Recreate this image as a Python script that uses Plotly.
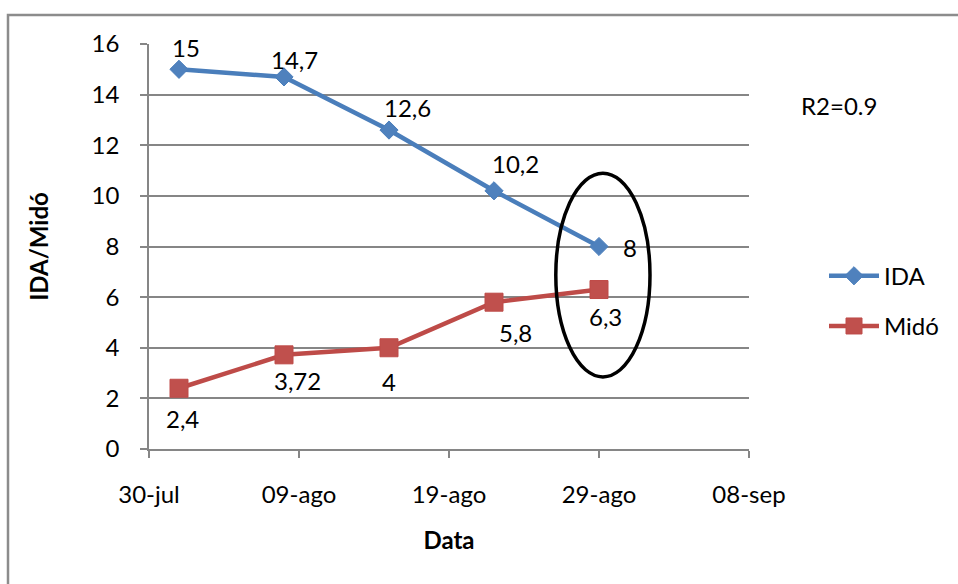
import plotly.graph_objects as go

# Sampling dates and measured values
dates = ["2013-08-01", "2013-08-08", "2013-08-15", "2013-08-22", "2013-08-29"]
ida = [15, 14.7, 12.6, 10.2, 8]
mido = [2.4, 3.72, 4, 5.8, 6.3]

# Label offsets (px) for each data label
ida_label_shift = [(7, 22), (10, 17), (18, 23), (21, 27), (31, -1)]
mido_label_shift = [(3, -30), (13, -26), (0, -34), (21, -30), (6, -27)]

# Axis ticks
tick_dates = ["2013-07-30", "2013-08-09", "2013-08-19", "2013-08-29", "2013-09-08"]
tick_labels = ["30-jul", "09-ago", "19-ago", "29-ago", "08-sep"]

FONT = "Lato"
FS = 24
GRID = "#868686"

fig = go.Figure()
fig.add_trace(go.Scatter(
    x=dates, y=ida, name="IDA", mode="lines+markers", legendgroup="a",
    line=dict(color="#4A7EBB", width=4.5),
    marker=dict(symbol="diamond", size=14, color="#4F81BD",
                line=dict(color="#4A7EBB", width=1)),
))
fig.add_trace(go.Scatter(
    x=dates, y=mido, name="Midó", mode="lines+markers", legendgroup="b",
    line=dict(color="#BE4B48", width=4.5),
    marker=dict(symbol="square", size=18, color="#C0504D",
                line=dict(color="#BE4B48", width=1)),
))


def fmt(v):
    return f"{v:g}".replace(".", ",")


annotations = []
for d, v, (dx, dy) in zip(dates, ida, ida_label_shift):
    annotations.append(dict(x=d, y=v, xref="x", yref="y", text=fmt(v),
                            showarrow=False, xshift=dx, yshift=dy,
                            font=dict(family=FONT, size=FS, color="black")))
for d, v, (dx, dy) in zip(dates, mido, mido_label_shift):
    annotations.append(dict(x=d, y=v, xref="x", yref="y", text=fmt(v),
                            showarrow=False, xshift=dx, yshift=dy,
                            font=dict(family=FONT, size=FS, color="black")))

annotations.append(dict(x=1.083, y=0.847, xref="paper", yref="paper",
                        text="R2=0.9", showarrow=False,
                        xanchor="left", yanchor="middle",
                        font=dict(family=FONT, size=FS, color="black")))

shapes = [
    # chart frame
    dict(type="rect", xref="paper", yref="paper",
         x0=-0.235, x1=1.40, y0=-0.45, y1=1.0716,
         line=dict(color="#8C8C8C", width=2.5), layer="below"),
    # highlight around the last sampling date
    dict(type="circle", xref="paper", yref="paper",
         x0=0.678, x1=0.835, y0=0.178, y1=0.681,
         line=dict(color="black", width=3.5)),
]

fig.update_layout(
    width=958, height=584,
    margin=dict(l=149, r=209, t=44, b=135),
    paper_bgcolor="white", plot_bgcolor="white",
    font=dict(family=FONT, size=FS, color="black"),
    showlegend=True,
    legend=dict(x=1.125, y=0.365, xanchor="left", yanchor="middle",
                font=dict(family=FONT, size=FS, color="black"),
                tracegroupgap=16, itemwidth=50,
                bgcolor="rgba(0,0,0,0)"),
    annotations=annotations,
    shapes=shapes,
    xaxis=dict(
        type="date",
        range=["2013-07-30", "2013-09-08"],
        tickmode="array", tickvals=tick_dates, ticktext=tick_labels,
        showgrid=False, showline=True, linecolor=GRID, linewidth=1.5,
        ticks="outside", ticklen=7, tickcolor=GRID, tickwidth=1.5,
        ticklabelstandoff=16,
        tickfont=dict(family=FONT, size=FS, color="black"),
        title=dict(text="<b>Data</b>", standoff=26,
                   font=dict(family=FONT, size=FS, color="black")),
        zeroline=False,
    ),
    yaxis=dict(
        range=[0, 16], dtick=2, tick0=0,
        showgrid=True, gridcolor=GRID, gridwidth=1.5,
        showline=True, linecolor=GRID, linewidth=1.5,
        ticks="outside", ticklen=7, tickcolor=GRID, tickwidth=1.5,
        ticklabelstandoff=16,
        tickfont=dict(family=FONT, size=FS, color="black"),
        title=dict(text="<b>IDA/Midó</b>", standoff=36,
                   font=dict(family=FONT, size=FS, color="black")),
        zeroline=False,
    ),
)

fig.write_html("out.html")
